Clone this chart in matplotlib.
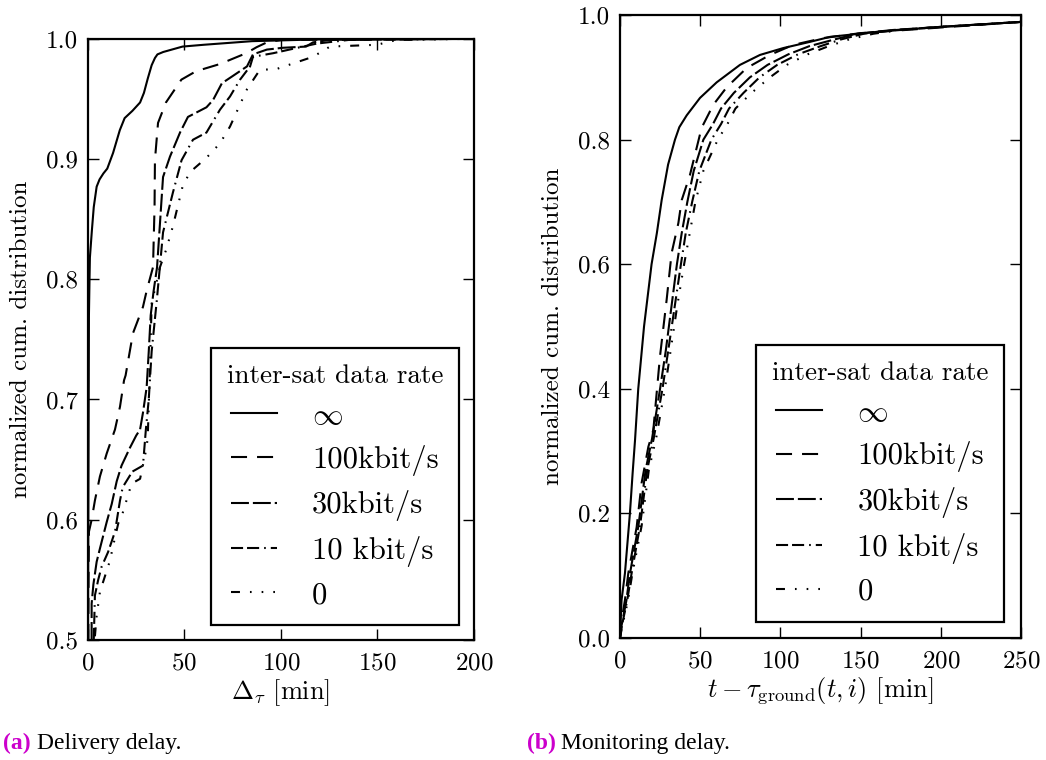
import numpy as np
import matplotlib
matplotlib.use("Agg")
import matplotlib.pyplot as plt

plt.rcParams['font.family'] = 'cmr10'
plt.rcParams['mathtext.fontset'] = 'cm'
plt.rcParams['axes.unicode_minus'] = False
plt.rcParams['axes.formatter.use_mathtext'] = True

# legend labels and line styles
LABELS = [r'$\infty$', '100kbit/s', '30kbit/s', '10 kbit/s', '0']
STYLES = ['-',
          (0, (7.7, 4.8)),
          (0, (8.6, 1.9)),
          (0, (5.8, 1.9, 5.8, 2.4, 0.8, 2.4)),
          (0, (4.3, 4.8, 0.8, 4.8, 0.8, 4.8, 0.8, 4.8))]

# (a) delivery delay
a_inf_x = [0, 0.5, 0.8, 1, 2, 3, 4.5, 6, 8, 10, 13, 16.5, 19, 23, 27, 29, 31, 33, 34.7, 36, 39, 49, 60, 85, 120, 200]
a_inf_y = [0.5, 0.77, 0.8, 0.818, 0.84, 0.86, 0.877, 0.883, 0.888, 0.892, 0.905, 0.924, 0.934, 0.94, 0.947,
           0.955, 0.967, 0.978, 0.984, 0.987, 0.989, 0.9935, 0.995, 0.998, 0.9995, 1.0]

a_100_x = [0.2, 0.3, 0.5, 1.9, 3.6, 6.2, 9.7, 14, 16.6, 18.7, 19.5, 23.3, 28.5, 30.5, 33.7, 34.5, 34.7, 36.3,
           40.4, 48.4, 56, 68.4, 82, 87.4, 92.7, 100, 200]
a_100_y = [0.5, 0.55, 0.59, 0.6, 0.616, 0.636, 0.655, 0.675, 0.694, 0.716, 0.72, 0.755, 0.777, 0.791, 0.81, 0.86,
           0.899, 0.93, 0.947, 0.966, 0.973, 0.979, 0.988, 0.993, 0.997, 0.999, 1.0]

a_30_x = [1.9, 1.9, 2.8, 4.5, 6.2, 9.7, 12.3, 14.9, 17.4, 21.8, 25, 27, 28.5, 30.4, 31.5, 32.5, 34, 35.8, 38.9,
          42.5, 47.7, 51.8, 61.4, 64.8, 69.4, 75, 82.4, 85.5, 92.7, 101, 113, 116.6, 125, 200]
a_30_y = [0.5, 0.53, 0.546, 0.565, 0.576, 0.598, 0.613, 0.632, 0.645, 0.66, 0.67, 0.675, 0.689, 0.71, 0.74, 0.77,
          0.79, 0.81, 0.885, 0.902, 0.922, 0.935, 0.943, 0.949, 0.963, 0.969, 0.977, 0.987, 0.991, 0.9925,
          0.9935, 0.997, 0.999, 1.0]

a_10_x = [3, 3.6, 5.3, 7.1, 10.4, 14, 16.6, 18, 23, 28.5, 30, 31.5, 33, 35.7, 38.9, 44, 48.5, 54.4, 61.4, 68.4,
          73.6, 78.8, 84, 85.5, 96, 110, 118.6, 135, 200]
a_10_y = [0.5, 0.537, 0.55, 0.561, 0.573, 0.59, 0.616, 0.627, 0.64, 0.645, 0.675, 0.7, 0.74, 0.783, 0.839, 0.872,
          0.899, 0.916, 0.922, 0.941, 0.952, 0.966, 0.977, 0.985, 0.988, 0.993, 0.996, 0.999, 1.0]

a_0_x = [3.6, 4.5, 6.2, 11.4, 13, 15.7, 17.5, 22.6, 27, 30.4, 31, 32, 33, 37.3, 40.4, 44, 49, 52.8, 61.4, 68.4,
         73.6, 82.4, 89, 98, 116.6, 125.4, 149.7, 160, 200]
a_0_y = [0.503, 0.52, 0.54, 0.566, 0.578, 0.597, 0.603, 0.63, 0.634, 0.66, 0.67, 0.72, 0.78, 0.81, 0.824, 0.844,
         0.877, 0.889, 0.901, 0.913, 0.927, 0.958, 0.974, 0.975, 0.985, 0.9935, 0.995, 0.999, 1.0]

# (b) monitoring delay
b_inf_x = [0, 0.5, 1, 3.1, 6.2, 7.9, 9.4, 11.4, 15, 19.7, 23, 26, 30, 34.3, 37, 41.6, 49.9, 60.3, 74.8, 87.3,
           101.8, 118.5, 131, 160, 199.5, 250]
b_inf_y = [0, 0.03, 0.061, 0.104, 0.2, 0.265, 0.318, 0.4, 0.5, 0.6, 0.65, 0.703, 0.76, 0.8, 0.82, 0.839, 0.867,
           0.892, 0.92, 0.936, 0.947, 0.957, 0.965, 0.973, 0.981, 0.989]

b_100_x = [0, 0.5, 3.1, 5.2, 10.4, 13.5, 17.7, 20.8, 24.9, 29.1, 32.2, 36.4, 38.5, 43.6, 50.9, 58.2, 66.5, 79,
           93.5, 107.9, 126.6, 150, 200, 250]
b_100_y = [0, 0.02, 0.061, 0.104, 0.178, 0.249, 0.307, 0.334, 0.451, 0.543, 0.618, 0.666, 0.703, 0.743, 0.819,
           0.856, 0.884, 0.915, 0.936, 0.952, 0.963, 0.971, 0.98, 0.989]

b_rest_y = [0, 0.02, 0.06, 0.1, 0.18, 0.22, 0.27, 0.32, 0.4, 0.46, 0.53, 0.6, 0.65, 0.7, 0.75, 0.8, 0.825, 0.85,
            0.875, 0.9, 0.92, 0.937, 0.95, 0.961, 0.97, 0.976, 0.981, 0.989]
b_30_x = [0, 1, 4, 6, 11.5, 13.5, 16, 20, 25, 28.5, 32, 35.5, 38.5, 42, 46, 52, 58, 63, 71, 81, 92, 105, 118,
          134, 148, 170, 200, 250]
b_10_x = [0, 1.2, 4.5, 7, 12.5, 14.5, 17, 21, 26.5, 30, 34, 38, 41, 45, 49.5, 57, 63, 68, 77, 87, 98, 111, 125,
          138, 152, 172, 200, 250]
b_0_x = [0, 1.5, 5, 7.5, 13.5, 15.5, 18, 22.5, 28, 31.5, 35.5, 40, 43.5, 47, 52, 61, 67, 72, 82, 93.5, 104, 117,
         130, 143, 158, 175, 200, 250]

fig = plt.figure(figsize=(10.46, 7.6), dpi=100)
ax1 = fig.add_axes([0.0841, 0.158, 0.369, 0.791])
ax2 = fig.add_axes([0.5927, 0.1605, 0.3834, 0.8197])

left_series = [(a_inf_x, a_inf_y), (a_100_x, a_100_y), (a_30_x, a_30_y), (a_10_x, a_10_y), (a_0_x, a_0_y)]
right_series = [(b_inf_x, b_inf_y), (b_100_x, b_100_y), (b_30_x, b_rest_y), (b_10_x, b_rest_y), (b_0_x, b_rest_y)]


def draw(ax, series, xlim, ylim, yticks, xlabel, anchor):
    for (xs, ys), ls, lab in zip(series, STYLES, LABELS):
        ax.plot(xs, ys, color='black', linestyle=ls, linewidth=1.5, label=lab)
    ax.set_xlim(*xlim)
    ax.set_ylim(*ylim)
    ax.set_yticks(yticks)
    ax.set_yticklabels([f"{t:.1f}" for t in yticks])
    ax.set_xticks(np.arange(xlim[0], xlim[1] + 1, 50))
    ax.tick_params(direction='in', length=8, width=1, top=True, right=True, labelsize=18)
    ax.tick_params(axis='x', pad=9)
    ax.tick_params(axis='y', pad=7)
    for sp in ax.spines.values():
        sp.set_linewidth(1.6)
    ax.set_ylabel('normalized cum. distribution', fontsize=18, labelpad=10)
    ax.set_xlabel(xlabel, fontsize=19, labelpad=2)
    leg = ax.legend(loc='lower right', bbox_to_anchor=anchor, borderaxespad=0, fontsize=22,
                    title='inter-sat data rate', title_fontsize=19.5, fancybox=False, framealpha=1,
                    handlelength=1.5, handletextpad=1.15, labelspacing=0.48, borderpad=0.52)
    leg.get_frame().set_edgecolor('black')
    leg.get_frame().set_linewidth(1.6)


draw(ax1, left_series, (0, 200), (0.5, 1.0), [0.5, 0.6, 0.7, 0.8, 0.9, 1.0],
     r'$\Delta_\tau$ [min]', (0.961, 0.025))
draw(ax2, right_series, (0, 250), (0.0, 1.0), [0.0, 0.2, 0.4, 0.6, 0.8, 1.0],
     r'$t-\tau_{\mathrm{ground}}(t,i)$ [min]', (0.958, 0.026))

cap_font = dict(family='Liberation Serif', fontsize=17)
cap_y = 1 - 743 / 760
fig.text(0.003, cap_y, '(a)', color='#cc00cc', fontweight='bold', va='center', **cap_font)
fig.text(0.035, cap_y, 'Delivery delay.', va='center', **cap_font)
fig.text(0.504, cap_y, '(b)', color='#cc00cc', fontweight='bold', va='center', **cap_font)
fig.text(0.536, cap_y, 'Monitoring delay.', va='center', **cap_font)

fig.savefig('out.png', dpi=100)
